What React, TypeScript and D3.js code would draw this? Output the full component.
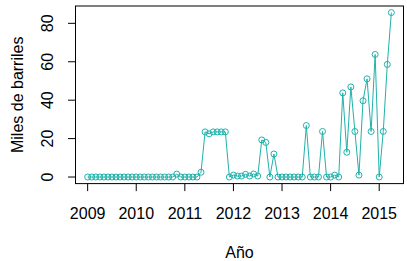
import React from "react";
import * as d3 from "d3";

const startYear = 2009;
// monthly values, Jan 2009 .. Apr 2015 (miles de barriles)
const values = [
  0, 0, 0, 0, 0, 0, 0, 0, 0, 0, 0, 0,
  0, 0, 0, 0, 0, 0, 0, 0, 0, 0, 1.5, 0,
  0, 0, 0, 0, 2.5, 23.5, 22.5, 23.5, 23.5, 23.5, 23.5, 0,
  1, 0.5, 0.5, 1.4, 0.5, 1.6, 0.5, 19.3, 18, 0, 12, 0,
  0, 0, 0, 0, 0, 0, 26.8, 0, 0, 0, 23.7, 0,
  0, 1, 0, 43.8, 12.9, 46.9, 23.7, 1, 39.7, 51.1, 23.7, 63.8,
  0, 23.7, 58.6, 85.6,
];
const xTicks = [2009, 2010, 2011, 2012, 2013, 2014, 2015];
const yTicks = [0, 20, 40, 60, 80];
const xTitle = "Año";
const yTitle = "Miles de barriles";

const W = 407;
const H = 261;
const left = 75.5;
const right = 403.5;
const top = 6;
const bottom = 183.6;
const color = "#20B2AA";
const font = "'Liberation Sans', Arial, sans-serif";

export default function App() {
  const xs = values.map((_, i) => startYear + i / 12);
  const [x0, x1] = d3.extent(xs) as [number, number];
  const [y0, y1] = d3.extent(values) as [number, number];
  const xPad = (x1 - x0) * 0.04;
  const yPad = (y1 - y0) * 0.04;
  const x = d3.scaleLinear().domain([x0 - xPad, x1 + xPad]).range([left, right]);
  const y = d3.scaleLinear().domain([y0 - yPad, y1 + yPad]).range([bottom, top]);
  const line = d3
    .line<number>()
    .x((_, i) => x(xs[i]))
    .y((d) => y(d));
  const tick = 7.5;
  return (
    <svg
      width={W}
      height={H}
      style={{ position: "absolute", left: 0, top: 0, background: "#fff" }}
      fontFamily={font}
    >
      <rect x={0} y={0} width={W} height={H} fill="#fff" />
      <path d={line(values) || ""} fill="none" stroke={color} strokeWidth={1} />
      {values.map((v, i) => (
        <circle key={i} cx={x(xs[i])} cy={y(v)} r={3} fill="none" stroke={color} strokeWidth={1} />
      ))}
      <rect
        x={left}
        y={top}
        width={right - left}
        height={bottom - top}
        fill="none"
        stroke="#000"
        strokeWidth={1}
      />
      {xTicks.map((t) => (
        <g key={t}>
          <line x1={x(t)} x2={x(t)} y1={bottom} y2={bottom + tick} stroke="#000" />
          <text x={x(t)} y={218.5} fontSize={16} textAnchor="middle" fill="#000">
            {t}
          </text>
        </g>
      ))}
      {yTicks.map((t) => (
        <g key={t}>
          <line x1={left - tick} x2={left} y1={y(t)} y2={y(t)} stroke="#000" />
          <text
            transform={`translate(53,${y(t)}) rotate(-90)`}
            fontSize={16}
            textAnchor="middle"
            fill="#000"
          >
            {t}
          </text>
        </g>
      ))}
      <text x={(left + right) / 2} y={258} fontSize={16} textAnchor="middle" fill="#000">
        {xTitle}
      </text>
      <text
        transform={`translate(23,${(top + bottom) / 2}) rotate(-90)`}
        fontSize={16}
        textAnchor="middle"
        fill="#000"
      >
        {yTitle}
      </text>
    </svg>
  );
}
